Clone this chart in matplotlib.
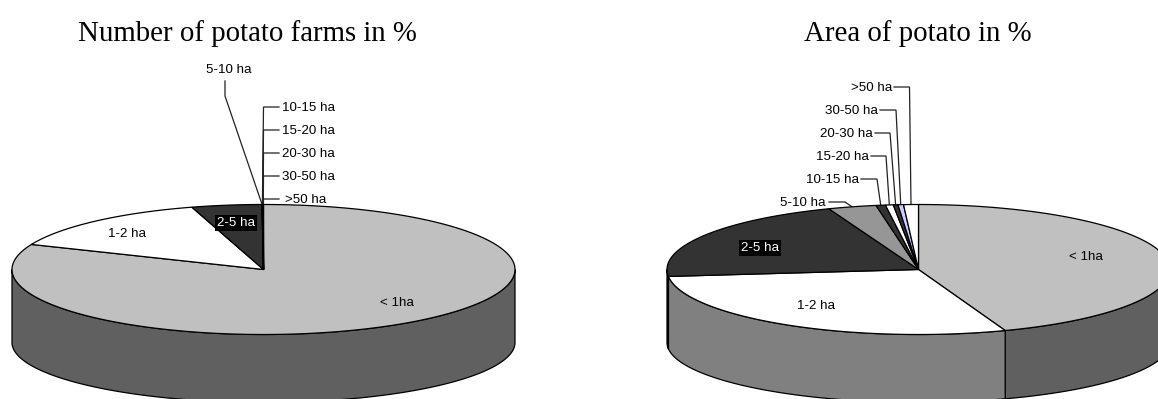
import numpy as np
import matplotlib
matplotlib.use("Agg")
import matplotlib.pyplot as plt
from matplotlib.patches import Polygon

# ---------------- DATA ----------------
classes = ["< 1ha", "1-2 ha", "2-5 ha", "5-10 ha", "10-15 ha", "15-20 ha", "20-30 ha", "30-50 ha", ">50 ha"]
farms_pct = [81.3, 14.1, 4.5, 0.02, 0.02, 0.02, 0.02, 0.01, 0.01]
area_pct = [44.4, 28.9, 20.9, 3.1, 0.6, 0.5, 0.3, 0.35, 0.95]

face_colors = ["#c0c0c0", "#ffffff", "#333333", "#969696", "#333333", "#ffffff", "#333333", "#ccccff", "#ffffff"]
wall_colors = ["#606060", "#808080", "#1a1a1a", "#4b4b4b", "#1a1a1a", "#808080", "#1a1a1a", "#666680", "#808080"]

# ---------------- LAYOUT (pixels) ----------------
RX, RY = 251.5, 65
BOTTOM_RY, BOTTOM_DROP = 60, 73
CY = 269.5
LEFT_CX, RIGHT_CX = 263.5, 918.5
LABEL_SIZE = 9.65
TEXT_DY = 1  # va="center" sits a little high with this font

# leader text anchor, then the corner of the leader
left_leaders = {
    "5-10 ha": ((229, 69, "center"), [(225, 81), (225, 96)]),
    "10-15 ha": ((281.5, 107, "left"), [(279, 107), (263.5, 107)]),
    "15-20 ha": ((281.5, 130, "left"), [(279, 130), (263.5, 130)]),
    "20-30 ha": ((281.5, 153, "left"), [(279, 153), (263.5, 153)]),
    "30-50 ha": ((281.5, 176, "left"), [(279, 176), (263.5, 176)]),
    ">50 ha": ((285, 199, "left"), [(279, 199), (263.5, 199)]),
}
right_leaders = {
    "5-10 ha": ((826, 202, "right"), [(829, 202), (845, 202)]),
    "10-15 ha": ((859, 179, "right"), [(861, 179), (877, 179)]),
    "15-20 ha": ((869, 156, "right"), [(871, 156), (886, 156)]),
    "20-30 ha": ((873, 133, "right"), [(875, 133), (890, 133)]),
    "30-50 ha": ((878, 110, "right"), [(880, 110), (896, 110)]),
    ">50 ha": ((892, 87, "right"), [(894, 87), (909.5, 87)]),
}
left_inside = {"< 1ha": (397, 302.5), "1-2 ha": (127, 233), "2-5 ha": (236, 222)}
right_inside = {"< 1ha": (1086, 255.5), "1-2 ha": (816, 305), "2-5 ha": (760, 247)}


def rim(cx, theta):
    # theta runs clockwise from the top, in radians
    return cx + RX * np.sin(theta), CY - RY * np.cos(theta)


def draw_pie(ax, cx, values, leaders, inside):
    edges = np.cumsum([0] + list(values)) / sum(values) * 2 * np.pi

    # side wall: only the part of each slice on the front half
    for i in range(len(values)):
        lo, hi = max(edges[i], np.pi / 2), min(edges[i + 1], 3 * np.pi / 2)
        if hi <= lo:
            continue
        t = np.linspace(lo, hi, 200)
        x, y = rim(cx, t)
        y_low = CY + BOTTOM_DROP - BOTTOM_RY * np.cos(t)
        pts = np.r_[np.c_[x, y], np.c_[x, y_low][::-1]]
        ax.add_patch(Polygon(pts, fc=wall_colors[i], ec="black", lw=0.9, zorder=2))

    # top face
    for i in range(len(values)):
        t = np.linspace(edges[i], edges[i + 1], 300)
        x, y = rim(cx, t)
        pts = np.r_[[[cx, CY]], np.c_[x, y]]
        ax.add_patch(Polygon(pts, fc=face_colors[i], ec="black", lw=0.9, zorder=3))

    # leaders go from the label to the middle of the slice
    for name, (txt, corners) in leaders.items():
        i = classes.index(name)
        ex, ey = rim(cx, (edges[i] + edges[i + 1]) / 2)
        xs = [p[0] for p in corners] + [ex]
        ys = [p[1] for p in corners] + [ey]
        ax.plot(xs, ys, color="#222222", lw=0.9, zorder=1, solid_joinstyle="miter")
        ax.text(txt[0], txt[1] + TEXT_DY, name, ha=txt[2], va="center", fontsize=LABEL_SIZE, color="black", zorder=1)

    for name, (tx, ty) in inside.items():
        if name == "2-5 ha":
            ax.text(tx, ty + TEXT_DY, name, ha="center", va="center", fontsize=LABEL_SIZE, color="white", zorder=5,
                    bbox=dict(fc="black", ec="none", pad=1.5))
        else:
            ax.text(tx, ty + TEXT_DY, name, ha="center", va="center", fontsize=LABEL_SIZE, color="black", zorder=5)


plt.rcParams["font.family"] = ["Liberation Sans", "DejaVu Sans"]
fig = plt.figure(figsize=(11.58, 3.99), dpi=100)
ax = fig.add_axes([0, 0, 1, 1])
ax.set_xlim(0, 1158)
ax.set_ylim(399, 0)
ax.axis("off")

draw_pie(ax, LEFT_CX, farms_pct, left_leaders, left_inside)
draw_pie(ax, RIGHT_CX, area_pct, right_leaders, right_inside)

ax.text(247.5, 33.5, "Number of potato farms in %", ha="center", va="center",
        fontsize=20.8, family="Liberation Serif")
ax.text(917.5, 33.5, "Area of potato in %", ha="center", va="center",
        fontsize=20.8, family="Liberation Serif")

fig.savefig("out.png", dpi=100)
